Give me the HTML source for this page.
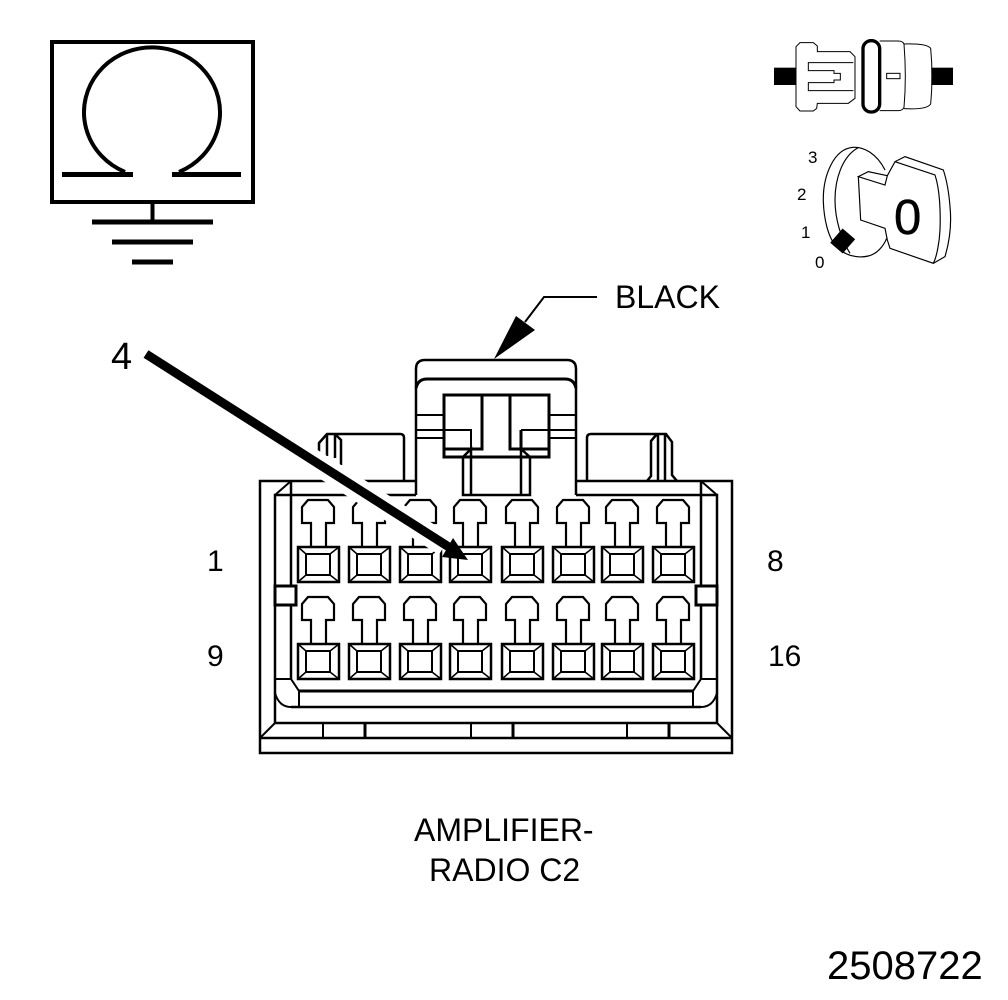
<!DOCTYPE html>
<html><head><meta charset="utf-8"><style>
html,body{margin:0;padding:0;background:#fff}
svg{display:block}
text{font-family:"Liberation Sans",sans-serif;fill:#000}
</style></head><body>
<svg width="1008" height="1000" viewBox="0 0 1008 1000" xmlns="http://www.w3.org/2000/svg">
<defs>
<g id="t1" fill="#fff" stroke="#000">
<path d="M13 47V23H4V7L10 0H30L36 7V23H28V47" stroke-width="2.200"/>
<rect x="0" y="47" width="41" height="35" stroke-width="2.500"/>
<rect x="8" y="54" width="24" height="21" stroke-width="2"/>
<path d="M0 47L8 54M41 47L32 54M0 82L8 75M41 82L32 75" stroke-width="1.500"/>
</g>
</defs>

<!-- omega box -->
<g fill="none" stroke="#000">
<rect x="52" y="42" width="201" height="160" stroke-width="4"/>
<path d="M125 172A68 65 0 1 1 179 172" stroke-width="4"/>
<path d="M62 174.500H133M172 174.500H241" stroke-width="5"/>
<path d="M152.500 202V222" stroke-width="4"/>
<path d="M92 222H213M112 242H193M132 262H173" stroke-width="5"/>
</g>

<!-- top right connector -->
<g transform="translate(770 30) scale(.33333)" fill="none" stroke="#000" stroke-width="3">
<rect x="12" y="113" width="66" height="52" fill="#000" stroke="none"/>
<rect x="484" y="113" width="65" height="52" fill="#000" stroke="none"/>
<path d="M78 50L90 38H130L142 48V65H240L255 80V205L235 220H142L140 235L130 243H90L78 230Z" fill="#fff"/>
<path d="M250 98H115V122H192V130H211V150H192V158H115V182H250"/>
<rect x="279" y="32" width="50" height="214" rx="24" stroke-width="10" fill="#fff"/>
<path d="M329 33H385Q398 33 402 42Q410 140 402 232Q398 242 385 242H329"/>
<path d="M402 42Q470 40 482 55Q490 140 482 222Q470 240 402 236"/>
<rect x="350" y="130" width="40" height="16"/>
</g>

<!-- key -->
<g transform="translate(770 30) scale(.33333)" fill="none" stroke="#000" stroke-width="3.500">
<path d="M345 420C320 370 280 350 250 352C190 356 158 440 160 515C162 570 175 620 195 645C225 680 265 685 295 678C320 672 340 650 350 625"/>
<path d="M265 353C215 380 195 450 195 510C195 570 215 630 240 670"/>
<path d="M352 437L345 465L265 440L295 425ZM265 440L272 570L345 595L352 630L360 655L490 700L525 680C540 630 545 580 540 530C537 490 530 450 520 420L405 380L375 395L352 437"/>
<path d="M375 395L495 435C510 480 512 550 510 600C508 640 500 680 490 700"/>
<path d="M218 598L253 628L218 668L183 638Z" fill="#000"/>
</g>
<g font-size="17">
<text x="808" y="163">3</text>
<text x="797" y="200">2</text>
<text x="801" y="238">1</text>
<text x="815" y="268">0</text>
</g>
<text x="894" y="234" font-size="49" stroke="#000" stroke-width="0.500">0</text>

<!-- terminals -->
<use href="#t1" x="298" y="500"/><use href="#t1" x="349" y="500"/><use href="#t1" x="400" y="500"/><use href="#t1" x="450" y="500"/>
<use href="#t1" x="502" y="500"/><use href="#t1" x="553" y="500"/><use href="#t1" x="602" y="500"/><use href="#t1" x="653" y="500"/>
<use href="#t1" x="298" y="597"/><use href="#t1" x="349" y="597"/><use href="#t1" x="400" y="597"/><use href="#t1" x="450" y="597"/>
<use href="#t1" x="502" y="597"/><use href="#t1" x="553" y="597"/><use href="#t1" x="602" y="597"/><use href="#t1" x="653" y="597"/>

<!-- connector body -->
<g fill="none" stroke="#000" stroke-width="2">
<!-- outer -->
<path d="M416 481H260V753H732V481H576" stroke-width="2.500"/>
<path d="M416 495H275V723H717V495H576" stroke-width="2.500"/>
<path d="M291 481L275 495M701 481L717 495M275 723L260 738M717 723L732 738"/>
<path d="M260 738H732" stroke-width="2.500"/>
<path d="M291 481V586M291 605V679M701 481V586M701 605V679" stroke-width="2.500"/>
<rect x="275" y="586" width="21" height="19" stroke-width="3" fill="#fff"/>
<rect x="696" y="586" width="21" height="19" stroke-width="3" fill="#fff"/>
<path d="M275 679H291L299 691V707M717 679H701L693 691V707M275 693Q279 707 291 707M717 693Q713 707 701 707"/>
<path d="M299 691H693" stroke-width="3"/>
<path d="M291 707H701" stroke-width="2.500"/>
<path d="M323 723V738M471 723V738M627 723V738"/>
<path d="M365 723V738M513 723V738M669 723V738" stroke-width="3"/>
<!-- top housing -->
<path d="M416 495V369Q416 360 425 360H567Q576 360 576 369V495" stroke-width="2.500"/>
<path d="M416 388Q418 379 427 379H565Q574 379 576 388" stroke-width="3"/>
<rect x="444" y="395" width="105" height="62" stroke-width="3"/>
<path d="M416 415H444M416 430H471V449M416 438H444M549 415H576M521 430H576M549 438H576"/>
<path d="M482 395V449H444M510 395V449H549M521 430V449" stroke-width="3"/>
<path d="M463 457L471 449V495M463 457V495H530V457L521 449V495" stroke-width="2.500"/>
<!-- tabs -->
<path d="M404 481V438Q404 434 400 434H327L319 443V452M327 434V456M335 434V458M335 434L341 440V465" stroke-width="2.500"/>
<path d="M587 481V438Q587 434 591 434H666L672 442V475L677 481M657 434L651 441V476L647 481M658 434V481M665 434V481" stroke-width="2.500"/>
</g>

<!-- arrow 4 -->
<path d="M146 354L445 545" stroke="#fff" stroke-width="23" fill="none"/>
<path d="M146 354L452 549" stroke="#000" stroke-width="9" fill="none"/>
<path d="M453 538L442 557L468 560Z" fill="#000"/>

<!-- black arrow -->
<path d="M597 297H544L525 322" fill="none" stroke="#000" stroke-width="2"/>
<path d="M494 359L516 316L535 330Z" fill="#000"/>

<!-- labels -->
<text x="615" y="308" font-size="32">BLACK</text>
<text x="111" y="369" font-size="38">4</text>
<g font-size="30">
<text x="207" y="571">1</text>
<text x="767" y="571">8</text>
<text x="207" y="666">9</text>
<text x="768" y="666">16</text>
</g>
<text x="414" y="841" font-size="32">AMPLIFIER-</text>
<text x="429" y="881" font-size="32">RADIO C2</text>
<text x="827" y="979" font-size="40">2508722</text>
</svg>
</body></html>
